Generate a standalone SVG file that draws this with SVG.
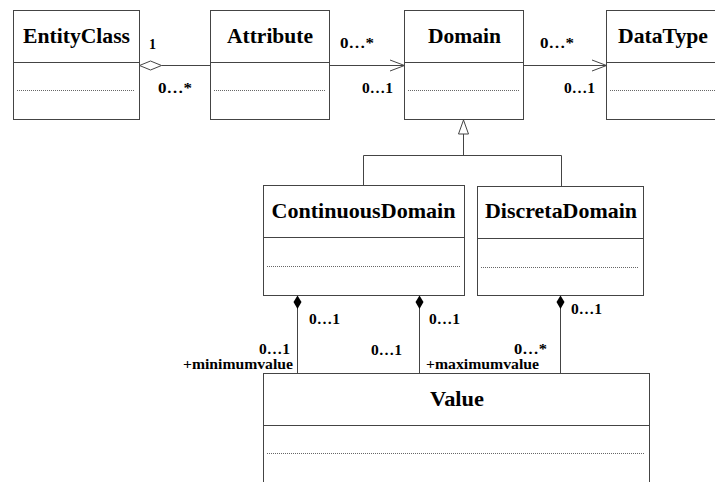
<svg xmlns="http://www.w3.org/2000/svg" width="715" height="482" viewBox="0 0 715 482">
<style>
.box{fill:#fff;stroke:#444;stroke-width:1}
.div{stroke:#444;stroke-width:1;fill:none}
.dot{stroke:#666;stroke-width:1;stroke-dasharray:1 1;fill:none}
.ln{stroke:#444;stroke-width:1;fill:none}
.title{font-family:"Liberation Serif","Times New Roman",serif;font-weight:bold;font-size:21px;fill:#000;text-anchor:middle}
.lbl{font-family:"Liberation Serif","Times New Roman",serif;font-weight:bold;font-size:14px;fill:#000}
</style>
<rect width="715" height="482" fill="#fff"/>
<g id="EntityClass">
<rect class="box" x="13.5" y="10.5" width="126" height="109"/>
<line class="div" x1="13.5" y1="62.5" x2="139.5" y2="62.5"/>
<line class="dot" x1="17" y1="90.5" x2="135" y2="90.5"/>
<text class="title" x="76.5" y="43" textLength="107" lengthAdjust="spacingAndGlyphs">EntityClass</text>
</g>
<g id="Attribute">
<rect class="box" x="210.5" y="10.5" width="119" height="109"/>
<line class="div" x1="210.5" y1="62.5" x2="329.5" y2="62.5"/>
<line class="dot" x1="214" y1="90.5" x2="325" y2="90.5"/>
<text class="title" x="270" y="43" textLength="86" lengthAdjust="spacingAndGlyphs">Attribute</text>
</g>
<g id="Domain">
<rect class="box" x="404.5" y="10.5" width="119" height="109"/>
<line class="div" x1="404.5" y1="62.5" x2="523.5" y2="62.5"/>
<line class="dot" x1="408" y1="90.5" x2="519" y2="90.5"/>
<text class="title" x="464.5" y="43" textLength="73" lengthAdjust="spacingAndGlyphs">Domain</text>
</g>
<g id="DataType">
<rect class="box" x="606.5" y="10.5" width="119" height="109"/>
<line class="div" x1="606.5" y1="62.5" x2="725.5" y2="62.5"/>
<line class="dot" x1="610" y1="90.5" x2="721" y2="90.5"/>
<text class="title" x="663" y="43" textLength="90" lengthAdjust="spacingAndGlyphs">DataType</text>
</g>
<g id="ContinuousDomain">
<rect class="box" x="263.5" y="185.5" width="201" height="110"/>
<line class="div" x1="263.5" y1="237.5" x2="464.5" y2="237.5"/>
<line class="dot" x1="267" y1="266.5" x2="460" y2="266.5"/>
<text class="title" x="363.5" y="218" textLength="184" lengthAdjust="spacingAndGlyphs">ContinuousDomain</text>
</g>
<g id="DiscretaDomain">
<rect class="box" x="477.5" y="186.5" width="166" height="109"/>
<line class="div" x1="477.5" y1="238.5" x2="643.5" y2="238.5"/>
<line class="dot" x1="481" y1="267.5" x2="639" y2="267.5"/>
<text class="title" x="561" y="218" textLength="152" lengthAdjust="spacingAndGlyphs">DiscretaDomain</text>
</g>
<g id="Value">
<rect class="box" x="263.5" y="373.5" width="386" height="120"/>
<line class="div" x1="263.5" y1="425.5" x2="649.5" y2="425.5"/>
<line class="dot" x1="267" y1="453.5" x2="645" y2="453.5"/>
<text class="title" x="457" y="406" textLength="54" lengthAdjust="spacingAndGlyphs">Value</text>
</g>
<g id="connectors">
<line class="ln" x1="161.5" y1="65.5" x2="210.5" y2="65.5"/>
<polygon points="139.5,65.5 150.5,61 161.5,65.5 150.5,70" fill="#fff" stroke="#444"/>
<line class="ln" x1="329.5" y1="65.5" x2="404.5" y2="65.5"/>
<polyline class="ln" points="390,60 404.5,65.5 390,71"/>
<line class="ln" x1="523.5" y1="65.5" x2="606.5" y2="65.5"/>
<polyline class="ln" points="592,60 606.5,65.5 592,71"/>
<polyline class="ln" points="463.5,134 463.5,155.5"/>
<polygon points="463.5,120 458.5,134 468.5,134" fill="#fff" stroke="#444"/>
<polyline class="ln" points="363.5,185.5 363.5,155.5 561.5,155.5 561.5,186.5"/>
<line class="ln" x1="297.5" y1="308" x2="297.5" y2="373.5"/>
<polygon points="297.5,295.5 301.5,302 297.5,309 293.5,302" fill="#000"/>
<line class="ln" x1="419.5" y1="308" x2="419.5" y2="373.5"/>
<polygon points="419.5,295.5 423.5,302 419.5,309 415.5,302" fill="#000"/>
<line class="ln" x1="560.5" y1="308" x2="560.5" y2="373.5"/>
<polygon points="560.5,295.5 564.5,302 560.5,309 556.5,302" fill="#000"/>
</g>
<g id="labels">
<text class="lbl" x="149" y="49">1</text>
<text class="lbl" x="158" y="93" textLength="34" lengthAdjust="spacingAndGlyphs">0…*</text>
<text class="lbl" x="340" y="48" textLength="34" lengthAdjust="spacingAndGlyphs">0…*</text>
<text class="lbl" x="362" y="93" textLength="31" lengthAdjust="spacingAndGlyphs">0…1</text>
<text class="lbl" x="540" y="48" textLength="34" lengthAdjust="spacingAndGlyphs">0…*</text>
<text class="lbl" x="564" y="93" textLength="31" lengthAdjust="spacingAndGlyphs">0…1</text>
<text class="lbl" x="309" y="324" textLength="31" lengthAdjust="spacingAndGlyphs">0…1</text>
<text class="lbl" x="429" y="324" textLength="31" lengthAdjust="spacingAndGlyphs">0…1</text>
<text class="lbl" x="571" y="314" textLength="31" lengthAdjust="spacingAndGlyphs">0…1</text>
<text class="lbl" x="259" y="354" textLength="31" lengthAdjust="spacingAndGlyphs">0…1</text>
<text class="lbl" x="183" y="369" textLength="110" lengthAdjust="spacingAndGlyphs">+minimumvalue</text>
<text class="lbl" x="371" y="355" textLength="31" lengthAdjust="spacingAndGlyphs">0…1</text>
<text class="lbl" x="514" y="354" textLength="33" lengthAdjust="spacingAndGlyphs">0…*</text>
<text class="lbl" x="426" y="369" textLength="113" lengthAdjust="spacingAndGlyphs">+maximumvalue</text>
</g>
</svg>
